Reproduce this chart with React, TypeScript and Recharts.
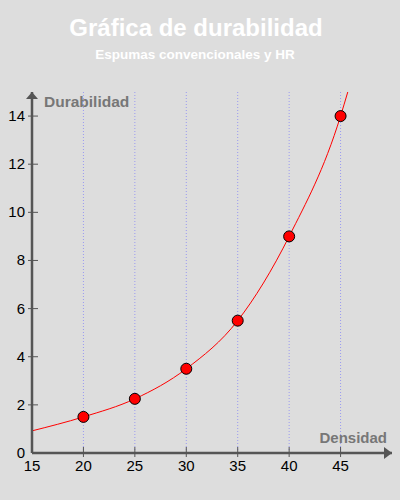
import { ComposedChart, Line, Scatter, XAxis, YAxis, ReferenceLine, ReferenceDot } from "recharts";

// measured points
const densidad = [20, 25, 30, 35, 40, 45];
const durabilidad = [1.5, 2.25, 3.5, 5.5, 9, 14];
// trend curve (runs out of the top at ~45.7)
const curveX = [15, 20, 25, 30, 35, 40, 45, 45.7];
const curveY = [0.92, 1.5, 2.25, 3.5, 5.5, 9, 14, 15];
const xTicks = [15, 20, 25, 30, 35, 40, 45];
const yTicks = [0, 2, 4, 6, 8, 10, 12, 14];
const gridX = [20, 25, 30, 35, 40, 45];

const AXIS = "#555555";
const TICK_FONT = "'Liberation Sans', Arial, sans-serif";
const LABEL_FONT = "'Liberation Sans', Arial, sans-serif";

const points = densidad.map((x, i) => ({ x, y: durabilidad[i] }));
const curve = curveX.map((x, i) => ({ x, y: curveY[i] }));

function XTick(props: any) {
  const { x, y, payload } = props;
  return (
    <g>
      {payload.value !== 15 && <line x1={x} x2={x} y1={y - 6} y2={y + 4} stroke={AXIS} strokeWidth={1} />}
      <text x={x} y={y + 18} textAnchor="middle" fontSize={15} fontFamily={TICK_FONT} fill="#000">
        {payload.value}
      </text>
    </g>
  );
}

function YTick(props: any) {
  const { x, y, payload } = props;
  return (
    <g>
      {payload.value !== 0 && <line x1={x - 4} x2={x + 6} y1={y} y2={y} stroke={AXIS} strokeWidth={1} />}
      <text x={x - 7} y={y + 5} textAnchor="end" fontSize={15} fontFamily={TICK_FONT} fill="#000">
        {payload.value}
      </text>
    </g>
  );
}

function RedDot(props: any) {
  return <circle cx={props.cx} cy={props.cy} r={5.5} fill="#ff0000" stroke="#000" strokeWidth={1} />;
}

function ArrowRight(props: any) {
  const { cx, cy } = props;
  return <path d={`M${cx},${cy} L${cx - 8},${cy - 6} L${cx - 8},${cy + 6} Z`} fill={AXIS} />;
}

function ArrowUp(props: any) {
  const { cx, cy } = props;
  return <path d={`M${cx},${cy} L${cx - 6},${cy + 7} L${cx + 6},${cy + 7} Z`} fill={AXIS} />;
}

export default function App() {
  return (
    <div style={{ position: "fixed", left: 0, top: 0, width: 400, height: 500, background: "#dddddd" }}>
      <ComposedChart width={400} height={500} margin={{ top: 92, right: 8, bottom: 0, left: 0 }}>
        <XAxis
          type="number"
          dataKey="x"
          domain={[15, 50]}
          ticks={xTicks}
          height={47}
          tickSize={0}
          tickMargin={0}
          tickLine={false}
          tick={<XTick />}
          axisLine={{ stroke: AXIS, strokeWidth: 2.5 }}
          allowDataOverflow
        />
        <YAxis
          type="number"
          dataKey="y"
          domain={[0, 15]}
          ticks={yTicks}
          width={32}
          tickSize={0}
          tickMargin={0}
          tickLine={false}
          tick={<YTick />}
          axisLine={{ stroke: AXIS, strokeWidth: 2.5 }}
          allowDataOverflow
        />
        {gridX.map((g) => (
          <ReferenceLine key={g} x={g} stroke="#9a9af0" strokeDasharray="1 2" />
        ))}
        <Line data={curve} dataKey="y" type="monotone" stroke="#ff0000" strokeWidth={1} dot={false} isAnimationActive={false} />
        <Scatter data={points} dataKey="y" shape={<RedDot />} isAnimationActive={false} />
        <ReferenceDot x={50} y={0} shape={<ArrowRight />} ifOverflow="visible" />
        <ReferenceDot x={15} y={15} shape={<ArrowUp />} ifOverflow="visible" />
      </ComposedChart>
      <svg width={400} height={500} style={{ position: "absolute", left: 0, top: 0, pointerEvents: "none" }}>
        <text x={196} y={36} textAnchor="middle" fontSize={24} fontWeight="bold" fontFamily={LABEL_FONT} fill="#ffffff">
          Gráfica de durabilidad
        </text>
        <text x={195} y={59} textAnchor="middle" fontSize={13.5} fontWeight="bold" fontFamily={LABEL_FONT} fill="#ffffff">
          Espumas convencionales y HR
        </text>
        <text x={44} y={107} fontSize={15.5} fontWeight="bold" fontFamily={LABEL_FONT} fill="#777777">
          Durabilidad
        </text>
        <text x={387} y={443} textAnchor="end" fontSize={15} fontWeight="bold" fontFamily={LABEL_FONT} fill="#777777">
          Densidad
        </text>
      </svg>
    </div>
  );
}
